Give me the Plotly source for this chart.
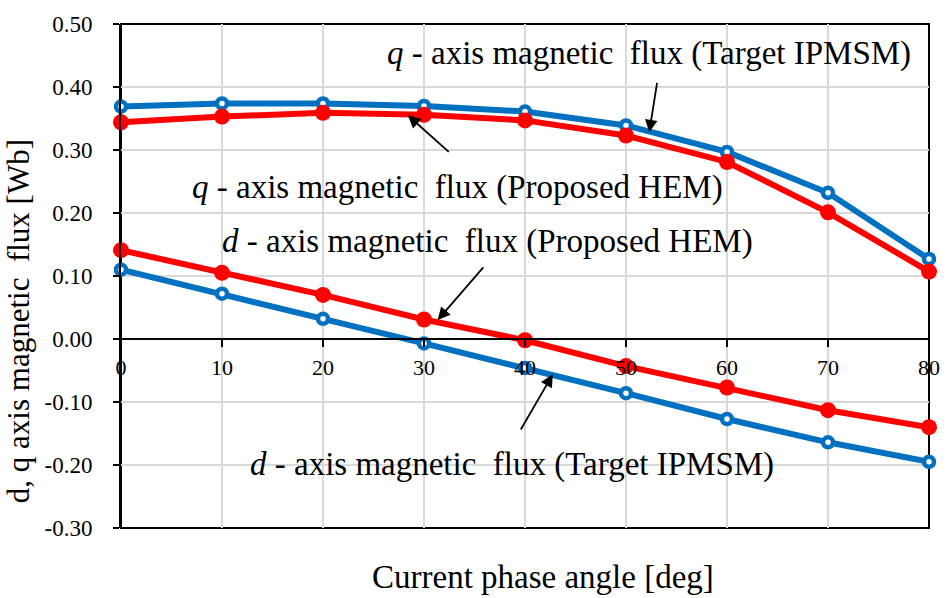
import plotly.graph_objects as go

# Current phase angle [deg]
angle = [0, 10, 20, 30, 40, 50, 60, 70, 80]

# q-axis flux linkage [Wb]
q_target = [0.369, 0.374, 0.374, 0.370, 0.361, 0.339, 0.297, 0.232, 0.127]
q_hem = [0.344, 0.353, 0.359, 0.356, 0.347, 0.323, 0.281, 0.201, 0.107]

# d-axis flux linkage [Wb]
d_target = [0.110, 0.072, 0.032, -0.007, -0.046, -0.086, -0.127, -0.164, -0.195]
d_hem = [0.141, 0.105, 0.070, 0.031, -0.002, -0.043, -0.077, -0.113, -0.140]

y_ticks = [0.5, 0.4, 0.3, 0.2, 0.1, 0.0, -0.1, -0.2, -0.3]
x_ticks = angle

BLUE = "#0070C0"
RED = "#FF0000"
FONT = "Liberation Serif"
NB = "\u00a0"

Y_MIN, Y_MAX = -0.3, 0.5

fig = go.Figure()

def add_target(y):
    fig.add_trace(go.Scatter(
        x=angle, y=y, mode="lines+markers",
        line=dict(color=BLUE, width=6),
        marker=dict(symbol="circle", size=10, color="white",
                    line=dict(color=BLUE, width=4.5)),
        showlegend=False, cliponaxis=False))

def add_hem(y):
    fig.add_trace(go.Scatter(
        x=angle, y=y, mode="lines+markers",
        line=dict(color=RED, width=6),
        marker=dict(symbol="circle", size=16, color=RED),
        showlegend=False, cliponaxis=False))

add_target(q_target)
add_hem(q_hem)
add_target(d_target)
add_hem(d_hem)

# labels for each curve
labels = [
    ("q", "Target IPMSM", 52.3, 0.453),
    ("q", "Proposed HEM", 33.3, 0.240),
    ("d", "Proposed HEM", 36.3, 0.154),
    ("d", "Target IPMSM", 38.7, -0.199),
]
for axis, src, lx, ly in labels:
    fig.add_annotation(
        x=lx, y=ly, xref="x", yref="y", showarrow=False,
        text=f"<i>{axis}</i> - axis magnetic{NB}{NB}flux ({src})",
        font=dict(family=FONT, size=33, color="black"))

# leader arrows (tail -> head), in data units
arrows = [
    (53.1, 0.409, 52.3, 0.328),
    (32.6, 0.295, 28.4, 0.355),
    (36.0, 0.116, 31.35, 0.030),
    (39.5, -0.146, 42.75, -0.056),
]
for tx, ty, hx, hy in arrows:
    fig.add_annotation(
        x=hx, y=hy, ax=tx, ay=ty, xref="x", yref="y", axref="x", ayref="y",
        text="", showarrow=True, arrowhead=2, arrowsize=1.4,
        arrowwidth=1.8, arrowcolor="black")

# plot frame
fig.add_shape(type="rect", xref="paper", yref="paper", x0=0, x1=1, y0=0, y1=1,
              line=dict(color="black", width=2), layer="between")

# the category axis crosses the value axis at zero
zero_pos = (0 - Y_MIN) / (Y_MAX - Y_MIN)

fig.update_layout(
    width=952, height=598,
    margin=dict(l=121, r=17, t=18, b=70),
    paper_bgcolor="white", plot_bgcolor="white",
    font=dict(family=FONT, size=22, color="black"),
    xaxis=dict(
        range=[0, 80], tickvals=x_ticks, ticktext=[str(v) for v in x_ticks],
        anchor="free", position=zero_pos, side="bottom",
        showline=True, linecolor="black", linewidth=2,
        ticks="outside", ticklen=7, tickwidth=2, tickcolor="black",
        ticklabelstandoff=2,
        showgrid=True, gridcolor="#D9D9D9", gridwidth=2,
        zeroline=False,
        tickfont=dict(family=FONT, size=22),
    ),
    xaxis2=dict(
        range=[0, 80], tickvals=x_ticks, overlaying="x",
        anchor="free", position=zero_pos, side="top",
        showline=False, ticks="outside", ticklen=7, tickwidth=2,
        tickcolor="black", showticklabels=False, showgrid=False,
        zeroline=False,
    ),
    yaxis=dict(
        range=[Y_MIN, Y_MAX], tickvals=y_ticks,
        ticktext=[f"{v:.2f}" for v in y_ticks],
        showline=True, linecolor="black", linewidth=2,
        ticks="outside", ticklen=6, tickwidth=2, tickcolor="black",
        ticklabelstandoff=16,
        showgrid=True, gridcolor="#D9D9D9", gridwidth=2,
        zeroline=False,
        tickfont=dict(family=FONT, size=23),
    ),
    yaxis2=dict(
        range=[Y_MIN, Y_MAX], tickvals=y_ticks, overlaying="y", side="left",
        showline=False, ticks="inside", ticklen=6, tickwidth=2,
        tickcolor="black", showticklabels=False, showgrid=False,
        zeroline=False,
    ),
)

# axis titles
fig.add_annotation(
    x=-0.1265, y=0.41, xref="paper", yref="paper", xanchor="center",
    yanchor="middle", showarrow=False,
    textangle=-90, text=f"d, q axis magnetic{NB}{NB}flux [Wb]",
    font=dict(family=FONT, size=31, color="black"))
fig.add_annotation(
    x=0.522, y=-0.098, xref="paper", yref="paper", xanchor="center",
    yanchor="middle", showarrow=False, text="Current phase angle [deg]",
    font=dict(family=FONT, size=33, color="black"))

fig.write_html("out.html")
